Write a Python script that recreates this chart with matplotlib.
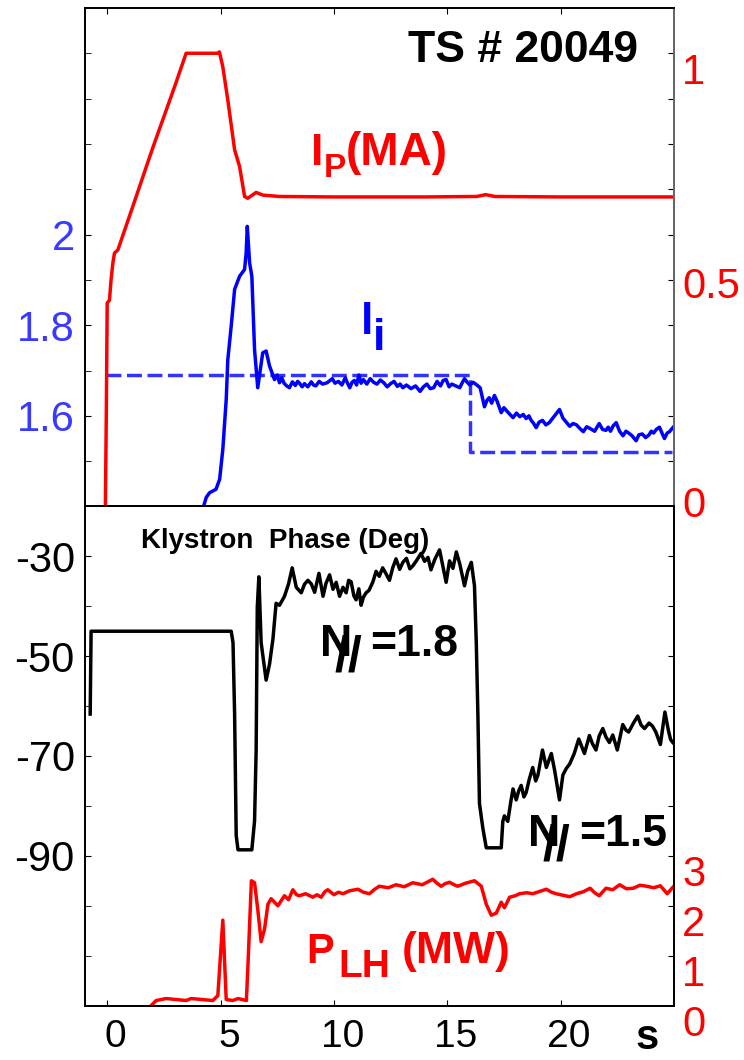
import numpy as np
import matplotlib.pyplot as plt
from matplotlib.transforms import ScaledTranslation

plt.rcParams['font.family'] = ['Liberation Sans', 'DejaVu Sans']
plt.rcParams['axes.unicode_minus'] = False

# plasma current Ip (MA)
ip_t = [-0.08, -0.04, 0.0, 0.1, 0.17, 0.25, 0.32, 0.47, 1.13, 2.0, 3.0, 3.48, 4.88, 4.95,
        5.1, 5.32, 5.62, 5.84, 6.06, 6.2, 6.57, 6.87, 7.6, 10.0, 14.0, 16.3, 16.7, 17.1,
        20.0, 25.0]
ip = [0.0, 0.2, 0.449, 0.455, 0.50, 0.537, 0.559, 0.566, 0.662, 0.79, 0.93, 1.0, 1.0, 1.003,
      0.97, 0.897, 0.787, 0.75, 0.684, 0.68, 0.693, 0.687, 0.684, 0.683, 0.683, 0.684, 0.688,
      0.684, 0.683, 0.683]

# internal inductance li
li_t = [4.22, 4.37, 4.51, 4.80, 4.96, 5.10, 5.25, 5.32, 5.47, 5.62, 5.84, 6.06, 6.13, 6.18,
        6.28, 6.38, 6.50, 6.64, 6.86, 7.01, 7.16, 7.38, 7.5, 7.6, 7.7, 7.8, 7.92, 8.04, 8.17,
        8.3, 8.4, 8.48, 8.6, 8.7, 8.85, 9.0, 9.1, 9.2, 9.35, 9.5, 9.7, 9.93, 10.05, 10.2,
        10.35, 10.5, 10.6, 10.7, 10.8, 10.9, 11.0, 11.1, 11.2, 11.3, 11.45, 11.6, 11.75, 11.9,
        12.05, 12.2, 12.35, 12.5, 12.65, 12.8, 12.92, 13.04, 13.2, 13.4, 13.6, 13.8, 13.95,
        14.1, 14.25, 14.4, 14.55, 14.7, 14.82, 14.95, 15.08, 15.2, 15.38, 15.55, 15.65, 15.76,
        15.88, 16.0, 16.14, 16.28, 16.45, 16.64, 16.75, 16.85, 16.96, 17.08, 17.2, 17.38,
        17.5, 17.6, 17.75, 17.9, 18.05, 18.2, 18.35, 18.48, 18.6, 18.7, 18.8, 18.92, 19.05,
        19.2, 19.35, 19.5, 19.7, 19.95, 20.1, 20.25, 20.4, 20.55, 20.7, 20.85, 21.0, 21.15,
        21.3, 21.5, 21.7, 21.85, 22.0, 22.1, 22.2, 22.32, 22.45, 22.6, 22.75, 22.88, 23.0,
        23.15, 23.33, 23.45, 23.6, 23.75, 23.9, 24.0, 24.1, 24.22, 24.36, 24.47, 24.58,
        24.7, 24.8, 24.95]
li = [1.395, 1.42, 1.43, 1.438, 1.46, 1.526, 1.636, 1.724, 1.798, 1.879, 1.908, 1.923, 1.96,
      2.018, 1.938, 1.908, 1.746, 1.662, 1.739, 1.743, 1.71, 1.68, 1.69, 1.673, 1.684, 1.672,
      1.666, 1.662, 1.675, 1.667, 1.676, 1.672, 1.664, 1.671, 1.664, 1.675, 1.668, 1.666,
      1.676, 1.670, 1.673, 1.682, 1.672, 1.676, 1.668, 1.684, 1.672, 1.662, 1.674, 1.678,
      1.668, 1.69, 1.672, 1.680, 1.670, 1.682, 1.674, 1.670, 1.679, 1.673, 1.664, 1.671,
      1.676, 1.665, 1.670, 1.662, 1.668, 1.660, 1.666, 1.654, 1.664, 1.670, 1.660, 1.662,
      1.676, 1.666, 1.678, 1.680, 1.664, 1.670, 1.666, 1.662, 1.672, 1.682, 1.674, 1.668,
      1.674, 1.669, 1.662, 1.620, 1.634, 1.640, 1.628, 1.645, 1.632, 1.607, 1.618, 1.612,
      1.604, 1.596, 1.606, 1.598, 1.603, 1.594, 1.600, 1.590, 1.584, 1.574, 1.586, 1.590,
      1.580, 1.585, 1.598, 1.614, 1.595, 1.586, 1.577, 1.583, 1.580, 1.572, 1.565, 1.576,
      1.572, 1.566, 1.583, 1.570, 1.568, 1.575, 1.566, 1.578, 1.585, 1.566, 1.556, 1.566,
      1.562, 1.556, 1.545, 1.558, 1.560, 1.552, 1.558, 1.566, 1.562, 1.570, 1.575, 1.562,
      1.550, 1.562, 1.565, 1.574]

# li reference (dashed)
li_ref_t = [-0.05, 16.0, 16.0, 24.9]
li_ref = [1.69, 1.69, 1.52, 1.52]

# klystron phase (deg)
ph_t = [-0.75, -0.71, 5.47, 5.55, 5.62, 5.69, 5.77, 6.38, 6.5, 6.57, 6.62, 6.69, 6.79, 7.01,
        7.16, 7.31, 7.45, 7.6, 7.82, 8.0, 8.16, 8.34, 8.56, 8.7, 8.85, 9.0, 9.15, 9.34, 9.52,
        9.65, 9.81, 9.96, 10.1, 10.25, 10.4, 10.54, 10.65, 10.76, 10.88, 10.98, 11.1, 11.2,
        11.3, 11.42, 11.55, 11.72, 11.86, 12.0, 12.15, 12.3, 12.45, 12.6, 12.74, 12.9, 13.04,
        13.2, 13.35, 13.48, 13.65, 13.84, 14.0, 14.15, 14.28, 14.45, 14.66, 14.8, 14.95,
        15.1, 15.25, 15.4, 15.55, 15.76, 15.9, 16.06, 16.2, 16.28, 16.35, 16.42, 16.57,
        16.72, 17.38, 17.45, 17.52, 17.67, 17.8, 17.9, 18.04, 18.15, 18.26, 18.38, 18.48,
        18.62, 18.77, 18.9, 19.0, 19.2, 19.37, 19.59, 19.74, 19.95, 20.1, 20.25, 20.4, 20.6,
        20.8, 20.92, 21.05, 21.27, 21.4, 21.56, 21.7, 21.86, 22.0, 22.15, 22.3, 22.5, 22.74,
        22.88, 23.0, 23.2, 23.4, 23.55, 23.7, 23.9, 24.05, 24.2, 24.4, 24.6, 24.75, 24.85,
        24.95]
ph = [-61.6, -45.0, -45.0, -47.3, -61.6, -85.9, -88.8, -88.8, -83.0, -68.8, -40.2, -34.1,
      -47.3, -54.8, -51.6, -46.6, -39.4, -39.8, -38.0, -35.5, -32.3, -36.2, -37.3, -35.6,
      -34.8, -35.5, -37.2, -33.4, -38.0, -35.4, -33.7, -36.6, -35.2, -38.0, -36.2, -37.3,
      -34.8, -35.1, -37.9, -38.7, -36.5, -39.8, -38.2, -37.3, -36.8, -35.1, -33.0, -34.0,
      -32.3, -33.5, -34.8, -32.2, -30.5, -32.6, -31.2, -30.4, -32.5, -31.9, -30.8, -29.4,
      -31.0, -30.2, -32.7, -30.6, -28.7, -31.8, -35.2, -30.9, -32.4, -29.1, -31.5, -35.9,
      -33.0, -31.2, -35.9, -47.3, -61.6, -79.5, -84.5, -88.4, -88.4, -83.1, -82.0, -83.1,
      -79.2, -76.6, -78.8, -77.0, -75.9, -78.2, -77.3, -74.6, -72.3, -75.0, -73.8, -68.8,
      -72.3, -69.5, -73.0, -78.8, -73.8, -72.5, -71.6, -69.5, -66.6, -68.0, -69.5, -65.9,
      -67.5, -68.8, -66.0, -64.5, -66.2, -67.3, -65.8, -68.8, -63.7, -64.8, -65.2, -63.5,
      -62.0, -63.8, -64.5, -63.4, -64.0, -65.2, -67.7, -61.2, -64.8, -66.7, -67.3]

# LH power (MW)
plh_t = [1.94, 2.16, 2.6, 3.48, 3.7, 4.66, 4.88, 5.1, 5.25, 5.54, 5.77, 6.14, 6.21, 6.36,
         6.5, 6.65, 6.79, 6.94, 7.09, 7.23, 7.53, 7.82, 8.0, 8.19, 8.35, 8.48, 8.75, 9.07,
         9.25, 9.44, 9.6, 9.73, 10.0, 10.2, 10.4, 10.7, 11.06, 11.3, 11.57, 11.8, 12.0, 12.4,
         12.74, 13.1, 13.48, 13.9, 14.36, 14.55, 14.73, 14.9, 15.1, 15.3, 15.46, 15.8, 16.2,
         16.5, 16.72, 16.94, 17.16, 17.38, 17.52, 17.75, 18.0, 18.19, 18.5, 18.77, 19.1,
         19.37, 19.6, 19.8, 20.1, 20.4, 20.7, 21.0, 21.3, 21.5, 21.7, 22.0, 22.3, 22.6, 22.9,
         23.2, 23.5, 23.8, 24.1, 24.4, 24.7, 24.95]
plh = [0.0, 0.1, 0.14, 0.1, 0.14, 0.1, 0.2, 1.71, 0.12, 0.1, 0.14, 0.1, 0.82, 2.5, 2.46,
       1.89, 1.28, 1.53, 2.03, 2.14, 2.0, 2.2, 2.12, 2.32, 2.22, 2.2, 2.24, 2.17, 2.22, 2.17,
       2.28, 2.32, 2.22, 2.27, 2.24, 2.3, 2.33, 2.27, 2.24, 2.33, 2.39, 2.36, 2.42, 2.38,
       2.46, 2.42, 2.53, 2.45, 2.39, 2.44, 2.47, 2.42, 2.39, 2.45, 2.5, 2.39, 2.03, 1.81,
       1.85, 2.07, 1.96, 2.17, 2.2, 2.24, 2.26, 2.24, 2.29, 2.33, 2.27, 2.24, 2.21, 2.18,
       2.24, 2.28, 2.35, 2.26, 2.2, 2.35, 2.32, 2.42, 2.34, 2.35, 2.41, 2.39, 2.36, 2.4,
       2.24, 2.37]

xticks = [0, 5, 10, 15, 20]
li_labels = [1.6, 1.8, 2.0]
ip_labels = ['0', '0.5', '1']
ph_labels = [-30, -50, -70, -90]
plh_labels = ['0', '1', '2', '3']

RED = '#ff0000'
BLUE = '#0000ff'
LBLUE = '#3a3aff'
FS = 30


def pieces(ax, x, y, parts, color):
    # parts: (text, dx pt, dy pt, size)
    for s, dx, dy, size in parts:
        ax.annotate(s, xy=(x, y), xytext=(dx, dy), textcoords='offset points',
                    fontsize=size, fontweight='bold', color=color, ha='left',
                    va='baseline', annotation_clip=False)


fig = plt.figure(figsize=(7.44, 10.6), dpi=100)
ax1 = fig.add_axes([0.1136, 0.5222, 0.7923, 0.4703])
ax1r = ax1.twinx()
ax2 = fig.add_axes([0.1136, 0.0514, 0.7923, 0.4708])
ax2r = ax2.twinx()

for a in (ax1, ax1r, ax2, ax2r):
    a.set_xlim(-1, 25)
    for s in a.spines.values():
        s.set_linewidth(1.3)
ax1r.spines['right'].set_color('#707070')

# ---- top panel ----
ax1.plot(li_ref_t, li_ref, color='#3333ff', lw=2.5, ls=(0, (4.3, 1.6)))
ax1.plot(li_t, li, color=BLUE, lw=2.5)
ax1.set_ylim(1.4, 2.5)
ax1.set_yticks(li_labels)
ax1.set_yticklabels(['1.6', '1.8', '2'])
ax1.set_yticks([1.5, 1.7, 1.9, 2.1, 2.2, 2.3, 2.4], minor=True)
ax1.tick_params(axis='y', which='both', direction='in', length=4, left=True, right=False,
                labelsize=FS, labelcolor=LBLUE, pad=7)
ax1.set_xticks(xticks)
ax1.tick_params(axis='x', direction='in', length=4, bottom=False, top=True,
                labelbottom=False, labeltop=False)

ax1r.plot(ip_t, ip, color=RED, lw=2.5)
ax1r.set_ylim(0, 1.1)
ax1r.set_yticks([0.1, 0.2, 0.3, 0.4, 0.5, 0.6, 0.7, 0.8, 0.9, 1.0])
ax1r.tick_params(axis='y', direction='in', length=4, labelright=False)
for val, lab, dy in zip([0, 0.5, 1.0], ip_labels, [0, -5, -14]):
    ax1r.annotate(lab, xy=(1, val), xycoords=('axes fraction', 'data'),
                  xytext=(6, dy), textcoords='offset points', ha='left', va='center',
                  fontsize=FS, color=RED, annotation_clip=False)

ax1r.text(13.25, 0.981, 'TS # 20049', fontsize=32, fontweight='bold', va='baseline')
pieces(ax1r, 9.0, 0.754, [('I', 0, 0, 32), ('P', 9, -8.6, 24), ('(MA)', 24.5, 0, 33)], RED)
pieces(ax1, 11.2, 1.7795, [('l', 0, 0, 32), ('i', 8.5, -11, 32)], BLUE)

# ---- bottom panel ----
ax2.plot(ph_t, ph, color='black', lw=2.5)
ax2.set_ylim(-120, -20)
ax2.set_yticks(ph_labels)
ax2.set_yticks([-110, -100, -80, -60, -40], minor=True)
ax2.tick_params(axis='y', which='both', direction='in', length=4, left=True, right=False,
                labelsize=FS, pad=7)
ax2.set_xticks(xticks)
ax2.tick_params(axis='x', direction='in', length=4, bottom=True, top=False,
                labelsize=28, pad=10)
shift = ScaledTranslation(6 / 72, 0, fig.dpi_scale_trans)
for lab in ax2.get_xticklabels():
    lab.set_transform(lab.get_transform() + shift)
ax2.annotate('s', xy=(23.83, 0), xycoords=('data', 'axes fraction'), xytext=(0, -31),
             textcoords='offset points', ha='center', va='baseline', fontsize=30,
             fontweight='bold', annotation_clip=False)

ax2r.plot(plh_t, plh, color=RED, lw=2.5)
ax2r.set_ylim(0, 10)
ax2r.set_yticks([1, 2, 3, 4, 5, 6, 7, 8, 9])
ax2r.tick_params(axis='y', direction='in', length=4, labelright=False)
for val, lab in enumerate(plh_labels):
    ax2r.annotate(lab, xy=(1, val), xycoords=('axes fraction', 'data'),
                  xytext=(6, -14), textcoords='offset points', ha='left', va='center',
                  fontsize=FS, color=RED, annotation_clip=False)

ax2.text(1.51, -28.36, 'Klystron  Phase (Deg)', fontsize=20, fontweight='bold',
         va='baseline')
pieces(ax2, 9.37, -50, [('N', 0, 0, 32), ('//', 11, -10, 36), ('=1.8', 36.5, 0, 32)], 'black')
pieces(ax2, 18.54, -88, [('N', 0, 0, 32), ('//', 11, -10, 36), ('=1.5', 37.5, 0, 32)], 'black')
pieces(ax2r, 8.78, 0.854, [('P', 0, 0, 30), ('LH', 23, -10, 28), ('(MW)', 69, 0, 32)], RED)

fig.savefig('out.png', dpi=100)
